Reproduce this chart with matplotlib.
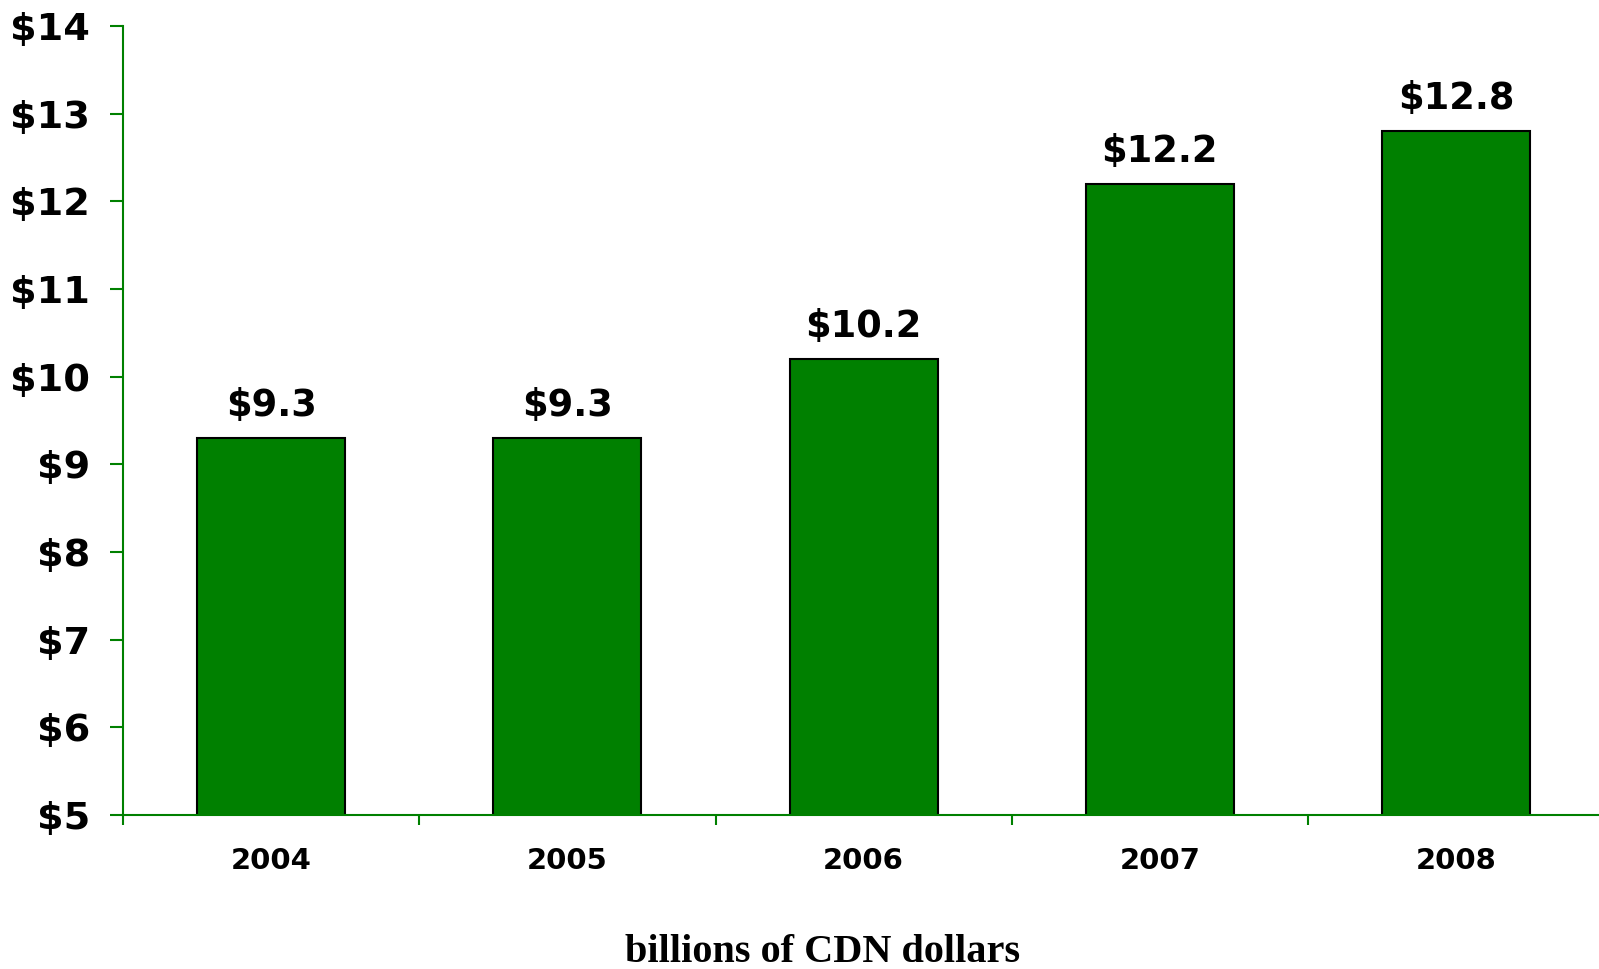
import matplotlib.pyplot as plt
from matplotlib.ticker import FixedLocator

# Data
years = ['2004', '2005', '2006', '2007', '2008']
values = [9.3, 9.3, 10.2, 12.2, 12.8]
value_labels = ['$9.3', '$9.3', '$10.2', '$12.2', '$12.8']
y_ticks = [5, 6, 7, 8, 9, 10, 11, 12, 13, 14]
y_tick_labels = ['$' + str(t) for t in y_ticks]

green = '#008000'

fig = plt.figure(figsize=(15.99, 9.69), dpi=100)
ax = fig.add_axes([123 / 1599, 154 / 969, 1476 / 1599, 789 / 969])

x = range(len(years))
ax.bar(x, values, width=0.5, color=green, edgecolor='black', linewidth=1.5, zorder=2)

for i, v in enumerate(values):
    ax.annotate(value_labels[i], (i, v), xytext=(0, 15.8), textcoords='offset points',
                ha='center', va='baseline', fontsize=26.5, fontweight='bold',
                family='DejaVu Sans')

ax.set_xlim(-0.5, -0.5 + 1476 / 296.25)
ax.set_ylim(5, 14)

ax.set_yticks(y_ticks)
ax.set_yticklabels(y_tick_labels, fontsize=27.5, fontweight='bold', family='DejaVu Sans')
ax.tick_params(axis='y', length=9.5, width=1.5, color=green, pad=14)

ax.set_xticks(list(x))
ax.set_xticklabels(years, fontsize=21, fontweight='bold', family='DejaVu Sans')
ax.tick_params(axis='x', which='major', length=0, pad=23)
ax.xaxis.set_minor_locator(FixedLocator([-0.5, 0.5, 1.5, 2.5, 3.5]))
ax.tick_params(axis='x', which='minor', length=7, width=1.5, color=green)

for s in ['top', 'right']:
    ax.spines[s].set_visible(False)
for s in ['left', 'bottom']:
    ax.spines[s].set_color(green)
    ax.spines[s].set_linewidth(1.5)
ax.spines['left'].set_zorder(3)
ax.spines['bottom'].set_zorder(3)

fig.text(823 / 1599, 7 / 969, 'billions of CDN dollars', ha='center', va='baseline',
         fontsize=29, fontweight='bold', family='Liberation Serif')

fig.savefig('out.png', dpi=100)
